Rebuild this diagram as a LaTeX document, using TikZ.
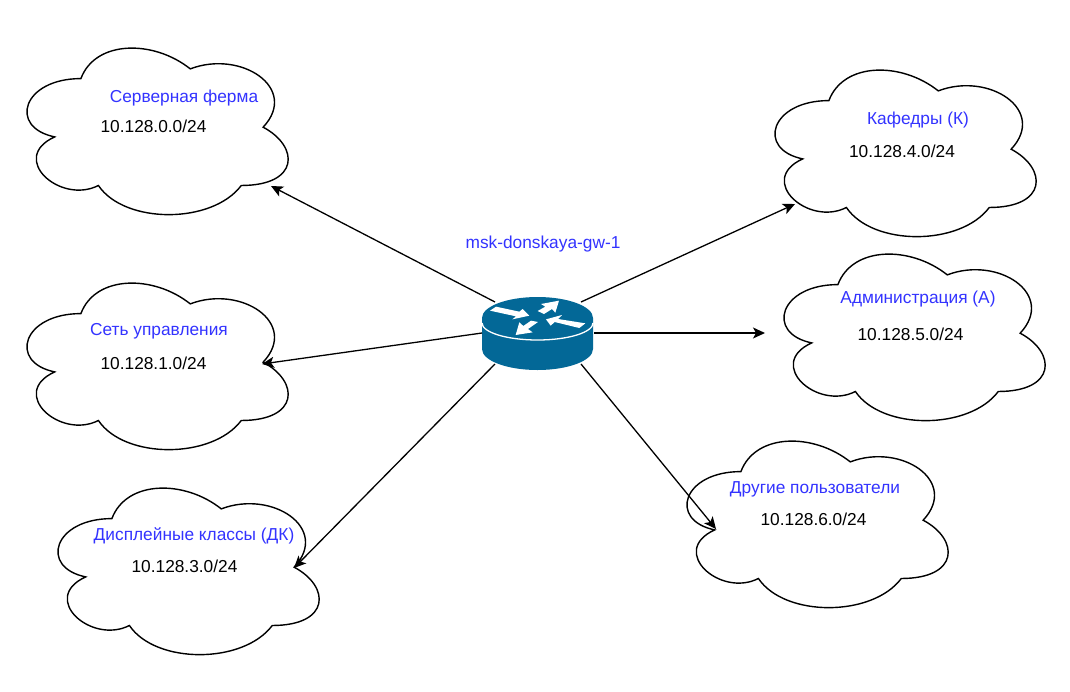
\documentclass[tikz,border=0pt]{standalone}
\usepackage{fontspec}
\setmainfont{Liberation Sans}
\usetikzlibrary{arrows.meta}
\definecolor{routerblue}{HTML}{036897}
\definecolor{labelblue}{HTML}{3333FF}
\tikzset{
  cloudshape/.style={draw=black,fill=white,line width=1.4pt},
  netname/.style={anchor=base,text=labelblue,font=\fontsize{17.3}{19}\selectfont,inner sep=0pt},
  netaddr/.style={anchor=base,text=black,font=\fontsize{17.3}{19}\selectfont,inner sep=0pt},
  link/.style={draw=black,line width=1.3pt,-{Stealth[length=12pt,width=11pt,inset=3pt]}},
  routerarrow/.style={fill=white,draw=none},
  cloudbox/.style={minimum width=262pt,minimum height=167pt,inner sep=0pt,draw=none}
}
\newcommand{\cloudat}[3]{%
  \begin{scope}[shift={(#2,#3)},xscale=1.002,yscale=1.007]
  \draw[cloudshape] (72.75,48.25)
    .. controls (14.55,48.25) and (0,96.5) .. (46.56,106.15)
    .. controls (0,127.38) and (52.38,173.7) .. (90.21,154.4)
    .. controls (116.4,193) and (203.7,193) .. (232.8,154.4)
    .. controls (291,154.4) and (291,115.8) .. (254.63,96.5)
    .. controls (291,57.9) and (232.8,19.3) .. (181.88,38.6)
    .. controls (145.5,9.65) and (87.3,9.65) .. (72.75,48.25) -- cycle;
  \end{scope}
  \node[cloudbox] (#1) at (#2+150,#3+102) {};
}
\begin{document}
\begin{tikzpicture}[x=1pt,y=-1pt]
\useasboundingbox (0,0) rectangle (1070,691);
\fill[white] (0,0) rectangle (1070,691);
% clouds
\cloudat{farm}{8}{30}
\cloudat{mgmt}{8}{265}
\cloudat{display}{39}{470}
\cloudat{dept}{756}{52}
\cloudat{admin}{765}{236}
\cloudat{other}{668}{423}
% router
\node[minimum width=112pt,minimum height=74pt,inner sep=0pt,draw=none] (router) at (537.5,333.5) {};
\fill[routerblue] (482,318) arc[start angle=180,end angle=360,x radius=55.5,y radius=21]
  -- (593,349) arc[start angle=0,end angle=180,x radius=55.5,y radius=21] -- cycle;
\draw[white,line width=1.3pt] (482,323) arc[start angle=180,end angle=0,x radius=55.5,y radius=17];
\begin{scope}[shift={(460,280)},x=0.3333pt,y=-0.3333pt]
\fill[routerarrow] (90,92) -- (108,80) -- (178,95) -- (188,87) -- (208,107) -- (157,118) -- (168,109) -- cycle;
\fill[routerarrow] (297,62) -- (243,72) -- (256,80) -- (233,93) -- (252,102) -- (276,87) -- (286,98) -- cycle;
\fill[routerarrow] (167,165) -- (218,157) -- (204,147) -- (234,126) -- (213,122) -- (190,138) -- (178,127) -- cycle;
\fill[routerarrow] (258,118) -- (306,105) -- (294,117) -- (376,130) -- (358,144) -- (284,126) -- (272,137) -- cycle;
\end{scope}
% ports
\coordinate (rNW) at (495,302);
\coordinate (rW) at (482,333);
\coordinate (rSW) at (495,364);
\coordinate (rNE) at (581,302);
\coordinate (rE) at (594,333);
\coordinate (rSE) at (581,364);
\coordinate (farmport) at (271,186);
\coordinate (mgmtport) at (262,364);
\coordinate (displayport) at (294,568);
\coordinate (deptport) at (795,204);
\coordinate (adminport) at (765,333);
\coordinate (otherport) at (716,529);
% connectors
\draw[link] (rNW) -- (farmport);
\draw[link] (rW) -- (mgmtport);
\draw[link] (rSW) -- (displayport);
\draw[link] (rNE) -- (deptport);
\draw[link] (rE) -- (adminport);
\draw[link] (rSE) -- (otherport);
% labels
\node[netname] (lrouter) at (543,248) {msk-donskaya-gw-1};
\node[netname] (lfarm) at (184,102) {Серверная ферма};
\node[netaddr] (afarm) at (153.5,132) {10.128.0.0/24};
\node[netname] (lmgmt) at (159,335) {Сеть управления};
\node[netaddr] (amgmt) at (153.5,369) {10.128.1.0/24};
\node[netname] (ldisplay) at (194,540) {Дисплейные классы (ДК)};
\node[netaddr] (adisplay) at (184.5,572) {10.128.3.0/24};
\node[netname] (ldept) at (918,124) {Кафедры (К)};
\node[netaddr] (adept) at (902,157) {10.128.4.0/24};
\node[netname] (ladmin) at (918,303) {Администрация (А)};
\node[netaddr] (aadmin) at (910.5,340) {10.128.5.0/24};
\node[netname] (lother) at (815,493) {Другие пользователи};
\node[netaddr] (aother) at (813.5,525) {10.128.6.0/24};
\end{tikzpicture}
\end{document}
